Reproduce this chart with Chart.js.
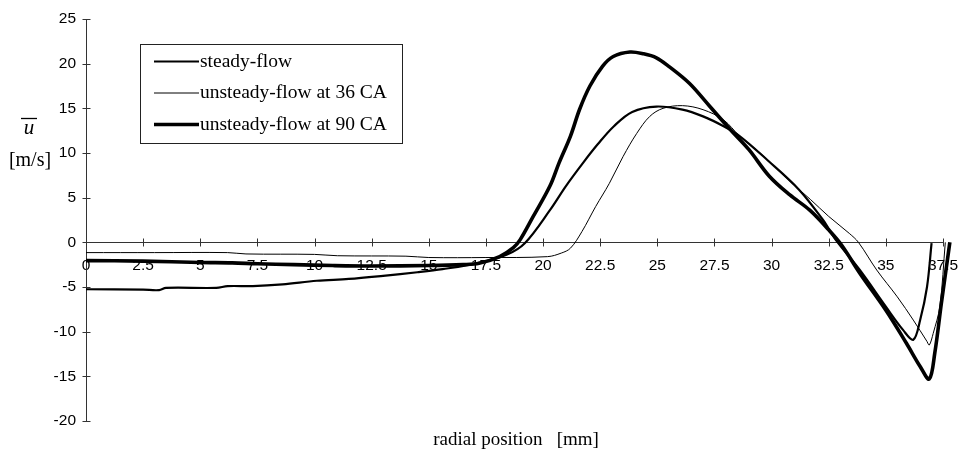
<!DOCTYPE html>
<html>
<head>
<meta charset="utf-8">
<script src="https://cdn.jsdelivr.net/npm/chart.js@4.4.1/dist/chart.umd.min.js"></script>
<style>
  body { margin: 0; background: #fff; }
  canvas { display: block; }
</style>
</head>
<body>
<canvas id="profile" width="964" height="449"></canvas>
<script>
// radial position [mm] / mean velocity [m/s]
var steadyX = [0, 2.5, 3.2, 3.5, 5.7, 6.2, 7.3, 8.6, 10.1, 11.5, 13.0, 14.5, 15.6, 17.2, 18.4, 19.2,
  20.3, 21.0, 21.75, 22.4, 23.1, 23.9, 24.96, 26.1, 27.0, 27.9, 28.6, 29.8, 31.2, 32.25, 32.8,
  33.86, 35.0, 35.75, 36.2, 36.5, 36.8, 37.0];
var steadyY = [-5.25, -5.3, -5.35, -5.1, -5.1, -4.9, -4.9, -4.7, -4.3, -4.1, -3.75, -3.35, -3.0, -2.3, -1.4, -0.1,
  3.6, 6.3, 8.9, 11.0, 13.0, 14.6, 15.2, 14.85, 14.1, 13.0, 11.9, 9.25, 5.9, 2.5, 0.3,
  -3.1, -7.2, -9.8, -10.9, -8.7, -5.0, -0.1];

var ca36X = [0, 3, 6.2, 7, 10, 11, 14, 15, 17.5, 20.2, 20.8, 21.2, 21.7, 22.3, 22.9, 23.5, 24.1, 24.67,
  25.25, 26.1, 27.0, 27.9, 28.6, 29.5, 30.9, 31.7, 32.5, 33.4, 33.8, 34.6, 35.5, 36.2, 36.8, 36.9,
  37.07, 37.36, 37.6];
var ca36Y = [-1.15, -1.15, -1.15, -1.3, -1.35, -1.5, -1.55, -1.7, -1.7, -1.6, -1.2, -0.65, 1.2, 4.0, 6.6, 9.6, 12.2, 14.1,
  15.0, 15.3, 14.85, 13.7, 11.9, 10.0, 6.6, 4.8, 2.9, 1.0, 0, -3.1, -6.1, -8.7, -11.1, -11.5,
  -10.2, -7.2, 0];

var ca90X = [0, 2.5, 5, 6.4, 7.5, 9.1, 10.8, 12.5, 15, 16.5, 17.2, 18.1, 18.7, 19.0, 19.57, 20.3, 20.7,
  21.2, 21.6, 22.05, 22.6, 23.07, 23.8, 24.4, 24.96, 25.5, 26.4, 27.3, 28.2, 29.0, 29.9, 30.8,
  31.67, 32.5, 33.06, 33.86, 35.0, 35.9, 36.5, 36.9, 37.14, 37.43, 37.8];
var ca90Y = [-2.05, -2.1, -2.25, -2.3, -2.4, -2.5, -2.6, -2.65, -2.6, -2.5, -2.35, -1.6, -0.6, 0.3, 2.9, 6.3, 8.9,
  11.9, 14.9, 17.5, 19.7, 20.8, 21.3, 21.1, 20.65, 19.7, 17.8, 15.2, 12.6, 10.4, 7.4, 5.3,
  3.6, 1.4, -0.3, -3.45, -7.6, -11.3, -13.9, -15.3, -12.4, -6.8, 0];

var seriesNames = ['steady-flow', 'unsteady-flow at 36 CA', 'unsteady-flow at 90 CA'];

function pts(xs, ys) {
  return xs.map(function (v, i) { return { x: v, y: ys[i] }; });
}

var serif = '"Liberation Serif", "Times New Roman", serif';
var sans = '"Liberation Sans", Arial, sans-serif';

// crossing tick marks, axis titles and the boxed legend
var decor = {
  id: 'decor',
  afterDraw: function (chart) {
    var ctx = chart.ctx;
    var xs = chart.scales.x, ys = chart.scales.y;
    var area = chart.chartArea;
    ctx.save();
    ctx.strokeStyle = '#333';
    ctx.lineWidth = 1;
    var y0 = Math.round(ys.getPixelForValue(0)) + 0.5;
    xs.ticks.forEach(function (t) {
      var px = Math.round(xs.getPixelForValue(t.value)) + 0.5;
      ctx.beginPath(); ctx.moveTo(px, y0 - 4); ctx.lineTo(px, y0 + 4); ctx.stroke();
    });
    var ax = Math.round(area.left) + 0.5;
    ys.ticks.forEach(function (t) {
      var py = Math.round(ys.getPixelForValue(t.value)) + 0.5;
      ctx.beginPath(); ctx.moveTo(ax - 4, py); ctx.lineTo(ax + 4, py); ctx.stroke();
    });

    // y title
    ctx.fillStyle = '#000';
    ctx.textAlign = 'center';
    ctx.textBaseline = 'alphabetic';
    ctx.font = 'italic 21px ' + serif;
    ctx.fillText('u', 29, 134);
    ctx.lineWidth = 1.3;
    ctx.strokeStyle = '#000';
    ctx.beginPath(); ctx.moveTo(21, 118.5); ctx.lineTo(37, 118.5); ctx.stroke();
    ctx.font = '20px ' + serif;
    ctx.fillText('[m/s]', 30, 166);

    // x title
    ctx.font = '19px ' + serif;
    ctx.fillText('radial position   [mm]', 516, 445);

    // legend
    ctx.lineWidth = 1;
    ctx.strokeStyle = '#222';
    ctx.fillStyle = '#fff';
    ctx.fillRect(140.5, 44.5, 262, 99);
    ctx.strokeRect(140.5, 44.5, 262, 99);
    ctx.textAlign = 'left';
    ctx.textBaseline = 'middle';
    chart.data.datasets.forEach(function (ds, i) {
      var ly = 61.5 + i * 31.5;
      ctx.strokeStyle = '#000';
      ctx.lineWidth = ds.borderWidth;
      ctx.beginPath(); ctx.moveTo(154, ly); ctx.lineTo(199, ly); ctx.stroke();
      ctx.fillStyle = '#000';
      ctx.font = '19.5px ' + serif;
      ctx.fillText(ds.label, 200, ly);
    });
    ctx.restore();
  }
};

var ctx = document.getElementById('profile').getContext('2d');
var profileChart = new Chart(ctx, {
  type: 'line',
  data: {
    datasets: [{
      label: seriesNames[0],
      data: pts(steadyX, steadyY),
      borderColor: '#000',
      borderWidth: 2.2
    }, {
      label: seriesNames[1],
      data: pts(ca36X, ca36Y),
      borderColor: '#000',
      borderWidth: 1
    }, {
      label: seriesNames[2],
      data: pts(ca90X, ca90Y),
      borderColor: '#000',
      borderWidth: 3.6
    }]
  },
  options: {
    responsive: false,
    animation: false,
    parsing: false,
    clip: false,
    layout: { padding: { left: 0, top: 19, right: 21, bottom: 28 } },
    elements: {
      point: { radius: 0 },
      line: { tension: 0.35, fill: false }
    },
    plugins: { legend: { display: false }, tooltip: { enabled: false } },
    scales: {
      x: {
        type: 'linear',
        position: { y: 0 },
        min: 0,
        max: 37.5,
        afterFit: function (scale) { scale.paddingLeft = 0; scale.paddingRight = 0; },
        grid: { display: false, drawTicks: false },
        border: { display: true, color: '#333', width: 1 },
        ticks: {
          stepSize: 2.5,
          autoSkip: false,
          maxRotation: 0,
          padding: 14,
          color: '#000',
          font: { family: sans, size: 15.5 }
        }
      },
      y: {
        type: 'linear',
        min: -20,
        max: 25,
        afterFit: function (scale) {
          scale.width = 86;
          scale.paddingTop = 0;
          scale.paddingBottom = 0;
        },
        grid: { display: false, drawTicks: false },
        border: { display: true, color: '#333', width: 1 },
        ticks: {
          stepSize: 5,
          padding: 10,
          color: '#000',
          font: { family: sans, size: 15.5 }
        }
      }
    }
  },
  plugins: [decor]
});
</script>
</body>
</html>
